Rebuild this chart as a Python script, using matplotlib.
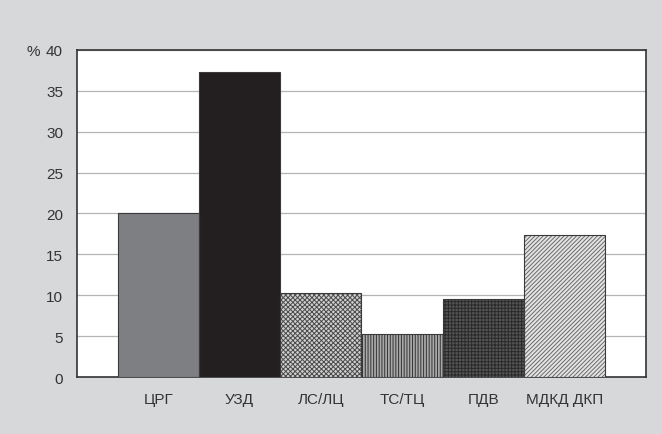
import matplotlib.pyplot as plt
import numpy as np

plt.rcParams['font.family'] = ['Liberation Sans', 'DejaVu Sans']
plt.rcParams['hatch.linewidth'] = 0.7

categories = ["ЦРГ", "УЗД", "ЛС/ЛЦ", "ТС/ТЦ", "ПДВ", "МДКД ДКП"]
values = [20.0, 37.3, 10.3, 5.2, 9.6, 17.4]

# fill, hatch colour, hatch pattern for every bar
faces = ["#7e7f83", "#231f20", "#d0d0d0", "#a8a8a8", "#555555", "#e4e4e4"]
hatch_colors = ["#7e7f83", "#231f20", "#4a4a4a", "#333333", "#2a2a2a", "#6a6a6a"]
hatches = [None, None, "xxxxxxx", "||||||", "+++++", "////////"]

bg = "#d7d8da"

fig = plt.figure(figsize=(6.62, 4.35), dpi=100, facecolor=bg)
ax = fig.add_axes([0.1163, 0.131, 0.8595, 0.752])
ax.set_facecolor("white")

x = np.arange(len(categories))
for i in range(len(categories)):
    ax.bar(x[i], values[i], width=1.0, color=faces[i], hatch=hatches[i],
           edgecolor=hatch_colors[i], linewidth=0, zorder=3)
    # thin outline on top of the hatch
    ax.bar(x[i], values[i], width=1.0, fill=False, edgecolor="#3a3a3a",
           linewidth=0.8, zorder=4)

ax.set_xlim(-1.0, 6.0)
ax.set_ylim(0, 40)
ax.set_yticks(range(0, 41, 5))
ax.yaxis.grid(True, color="#b4b4b4", linewidth=0.9, zorder=0)
ax.set_axisbelow(True)

ax.set_xticks(x)
ax.set_xticklabels(categories)
ax.tick_params(axis="both", length=0, labelsize=11, colors="#333333")
ax.tick_params(axis="x", pad=11)
ax.tick_params(axis="y", pad=10)

for side in ["left", "right", "top", "bottom"]:
    ax.spines[side].set_color("#333333")
    ax.spines[side].set_linewidth(1.2)

# percent sign to the left of the top tick label
fig.text(33 / 662, 1 - 52 / 435, "%", ha="center", va="center",
         fontsize=11, color="#333333")

fig.savefig("out.png", dpi=100, facecolor=bg)
